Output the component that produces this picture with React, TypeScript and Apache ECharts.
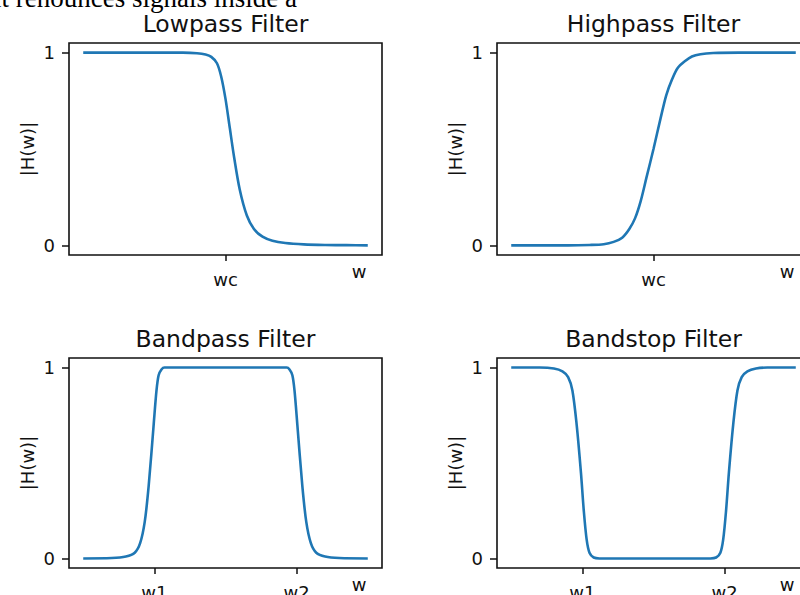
import React, { useEffect, useRef } from "react";
import * as echarts from "echarts";

// ---- data ----
const titles = ["Lowpass Filter", "Highpass Filter", "Bandpass Filter", "Bandstop Filter"];
const yTickValues = [0, 1];
const yTickLabels = ["0", "1"];
const xTickValues = [[1], [1], [0.5, 1.5], [0.5, 1.5]];
const xTickLabels = [["wc"], ["wc"], ["w1", "w2"], ["w1", "w2"]];
const yAxisLabel = "|H(w)|";
const xAxisLabel = "w";
const pageText = "it renounces signals inside a";

const lowpassW = [0, 0.4, 0.7, 0.8, 0.86, 0.9, 0.94, 0.97, 1.0, 1.03, 1.06, 1.1, 1.15, 1.2, 1.26, 1.33, 1.42, 1.55, 1.7, 1.85, 2.0];
const lowpassH = [1, 1, 1, 0.997, 0.99, 0.978, 0.945, 0.875, 0.76, 0.61, 0.46, 0.29, 0.155, 0.085, 0.045, 0.024, 0.012, 0.005, 0.002, 0.001, 0];

const highpassW = [0, 0.4, 0.55, 0.65, 0.72, 0.78, 0.83, 0.87, 0.91, 0.95, 1.0, 1.05, 1.09, 1.13, 1.17, 1.22, 1.27, 1.33, 1.42, 1.6, 2.0];
const highpassH = [0, 0, 0.002, 0.006, 0.018, 0.04, 0.085, 0.14, 0.23, 0.35, 0.5, 0.66, 0.78, 0.86, 0.92, 0.955, 0.98, 0.992, 0.998, 1, 1];

const bandpassW = [0, 0.2, 0.3, 0.362, 0.4, 0.432, 0.46, 0.495, 0.515, 0.53, 0.55, 0.571, 0.8, 1.2, 1.43, 1.45, 1.47, 1.485, 1.505, 1.54, 1.568, 1.6, 1.638, 1.7, 1.8, 2.0];
const bandpassH = [0, 0.002, 0.01, 0.03, 0.08, 0.19, 0.38, 0.7, 0.88, 0.96, 0.99, 1, 1, 1, 1, 0.99, 0.96, 0.88, 0.7, 0.38, 0.19, 0.08, 0.03, 0.01, 0.002, 0];

const bandstopW = [0, 0.2, 0.3, 0.36, 0.4, 0.43, 0.46, 0.49, 0.51, 0.53, 0.55, 0.58, 0.62, 1.4, 1.44, 1.47, 1.49, 1.51, 1.53, 1.56, 1.59, 1.62, 1.66, 1.72, 1.8, 2.0];
const bandstopH = [1, 1, 0.995, 0.98, 0.95, 0.88, 0.7, 0.45, 0.25, 0.1, 0.03, 0.005, 0, 0, 0.005, 0.03, 0.1, 0.25, 0.45, 0.7, 0.88, 0.95, 0.98, 0.995, 1, 1];

const seriesW = [lowpassW, highpassW, bandpassW, bandstopW];
const seriesH = [lowpassH, highpassH, bandpassH, bandstopH];

// ---- layout ----
const FONT = "DejaVu Sans";
const gridRects = [
  { left: 69, top: 43, width: 313, height: 212 },
  { left: 497, top: 43, width: 313, height: 212 },
  { left: 69, top: 358, width: 313, height: 210 },
  { left: 497, top: 358, width: 313, height: 210 },
];

export default function App() {
  const ref = useRef<HTMLDivElement>(null);
  useEffect(() => {
    if (!ref.current) return;
    const chart = echarts.init(ref.current, null, { renderer: "svg" });

    const grid = gridRects.map((r) => ({
      ...r,
      show: true,
      borderColor: "#111",
      borderWidth: 1.6,
      backgroundColor: "transparent",
      containLabel: false,
      outerBoundsMode: "none",
    }));

    const xAxis = gridRects.map((_, i) => ({
      gridIndex: i,
      type: "value",
      position: "bottom",
      min: -0.1,
      max: 2.1,
      axisLine: { show: false, onZero: false },
      splitLine: { show: false },
      axisTick: {
        show: true,
        inside: false,
        customValues: xTickValues[i],
        length: 6,
        lineStyle: { color: "#111", width: 1.5 },
      },
      axisLabel: {
        customValues: xTickValues[i],
        formatter: (v: number) => {
          const k = xTickValues[i].findIndex((t) => Math.abs(t - v) < 1e-9);
          return k >= 0 ? xTickLabels[i][k] : "";
        },
        margin: 15,
        fontSize: 18,
        color: "#111",
        fontFamily: FONT,
      },
      name: xAxisLabel,
      nameLocation: "end",
      nameGap: -23,
      nameMoveOverlap: false,
      nameTextStyle: {
        fontSize: 18,
        color: "#111",
        fontFamily: FONT,
        align: "center",
        verticalAlign: "top",
        padding: [7, 0, 0, 0],
      },
    }));

    const yAxis = gridRects.map((_, i) => ({
      gridIndex: i,
      type: "value",
      position: "left",
      min: -0.05,
      max: 1.05,
      axisLine: { show: false, onZero: false },
      splitLine: { show: false },
      axisTick: {
        show: true,
        inside: false,
        customValues: yTickValues,
        length: 7,
        lineStyle: { color: "#111", width: 1.5 },
      },
      axisLabel: {
        customValues: yTickValues,
        formatter: (v: number) => {
          const k = yTickValues.findIndex((t) => Math.abs(t - v) < 1e-9);
          return k >= 0 ? yTickLabels[k] : "";
        },
        margin: 14,
        fontSize: 18,
        color: "#111",
        fontFamily: FONT,
      },
      name: yAxisLabel,
      nameLocation: "middle",
      nameGap: 33,
      nameMoveOverlap: false,
      nameTextStyle: { fontSize: 18, color: "#111", fontFamily: FONT },
    }));

    const series = seriesW.map((ws, i) => ({
      type: "line",
      xAxisIndex: i,
      yAxisIndex: i,
      data: ws.map((w, j) => [w, seriesH[i][j]]),
      showSymbol: false,
      smooth: 0.3,
      lineStyle: { color: "#1f77b4", width: 2.6 },
      silent: true,
    }));

    const titleEls = gridRects.map((r, i) => ({
      type: "text",
      x: r.left + r.width / 2,
      y: r.top - 19,
      style: {
        text: titles[i],
        fontSize: 23.5,
        fontFamily: FONT,
        fill: "#111",
        align: "center",
        verticalAlign: "middle",
      },
    }));

    chart.setOption({
      animation: false,
      backgroundColor: "#fff",
      grid,
      xAxis,
      yAxis,
      series,
      graphic: [
        ...titleEls,
        {
          type: "text",
          x: -6,
          y: -2,
          style: {
            text: pageText,
            fontSize: 27,
            fontFamily: "Liberation Serif",
            fill: "#000",
            align: "left",
            verticalAlign: "middle",
          },
        },
      ],
    });
    return () => chart.dispose();
  }, []);

  return (
    <div
      ref={ref}
      style={{ position: "fixed", left: 0, top: 0, width: 800, height: 595 }}
    />
  );
}
